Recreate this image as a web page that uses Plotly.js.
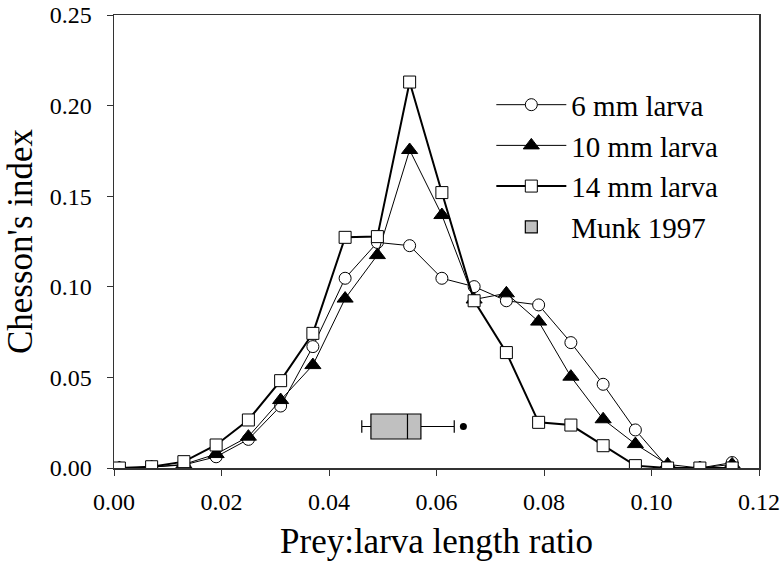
<!DOCTYPE html>
<html>
<head>
<meta charset="utf-8">
<script src="https://cdn.plot.ly/plotly-3.0.1.min.js"></script>
<style>html,body{margin:0;padding:0;background:#fff;}#chart{width:782px;height:563px;}</style>
</head>
<body>
<div id="chart"></div>
<script>
const ratio = [0.001, 0.007, 0.013, 0.019, 0.025, 0.031, 0.037, 0.043, 0.049, 0.055,
               0.061, 0.067, 0.073, 0.079, 0.085, 0.091, 0.097, 0.103, 0.109, 0.115];
const larva6  = [0.000, 0.0005, 0.0017, 0.0062, 0.0158, 0.0342, 0.0670, 0.1047, 0.1245, 0.1227,
                 0.1047, 0.1001, 0.0923, 0.0900, 0.0692, 0.0462, 0.0210, 0.0005, 0.0000, 0.0030];
const larva10 = [0.000, 0.0005, 0.0020, 0.0077, 0.0173, 0.0375, 0.0568, 0.0935, 0.1175, 0.1755,
                 0.1396, 0.0930, 0.0964, 0.0808, 0.0504, 0.0269, 0.0132, 0.0020, 0.0000, 0.0020];
const larva14 = [0.000, 0.0007, 0.0035, 0.0127, 0.0265, 0.0482, 0.0743, 0.1273, 0.1277, 0.2130,
                 0.1520, 0.0923, 0.0637, 0.0252, 0.0237, 0.0123, 0.0013, 0.0000, 0.0000, 0.0000];
const seriesNames = ["6 mm larva", "10 mm larva", "14 mm larva", "Munk 1997"];
const xTickVals = [0, 0.02, 0.04, 0.06, 0.08, 0.10, 0.12];
const xTickText = ["0.00", "0.02", "0.04", "0.06", "0.08", "0.10", "0.12"];
const yTickVals = [0, 0.05, 0.10, 0.15, 0.20, 0.25];
const yTickText = ["0.00", "0.05", "0.10", "0.15", "0.20", "0.25"];
// Munk 1997 box summary (prey:larva length ratio)
const munkLowerFence = [0.0461];
const munkQ1 = [0.0478];
const munkMedian = [0.0546];
const munkQ3 = [0.0571];
const munkUpperFence = [0.0633];
const munkOutlier = [0.0650];
const munkLevel = [0.0229];

const font = "Liberation Serif";

const traces = [
  {x: ratio, y: larva6, type: "scatter", mode: "lines+markers", name: seriesNames[0],
   line: {color: "#000", width: 1},
   marker: {symbol: "circle", size: 12, color: "#fff", line: {color: "#000", width: 1}}},
  {x: ratio, y: larva10, type: "scatter", mode: "lines+markers", name: seriesNames[1],
   line: {color: "#000", width: 1},
   marker: {symbol: "triangle-up", size: 14, color: "#000", line: {color: "#000", width: 1}}},
  {x: ratio, y: larva14, type: "scatter", mode: "lines+markers", name: seriesNames[2],
   line: {color: "#000", width: 2},
   marker: {symbol: "square", size: 12, color: "#fff", line: {color: "#000", width: 1}}},
  {type: "box", orientation: "h", name: seriesNames[3], y: munkLevel,
   lowerfence: munkLowerFence, q1: munkQ1, median: munkMedian, q3: munkQ3, upperfence: munkUpperFence,
   width: 0.0138, whiskerwidth: 0.5, fillcolor: "#c0c0c0", line: {color: "#000", width: 1.2},
   boxpoints: false, hoverinfo: "skip"},
  {x: munkOutlier, y: munkLevel, type: "scatter", mode: "markers", showlegend: false,
   marker: {symbol: "circle", size: 7, color: "#000"}}
];

const layout = {
  width: 782, height: 563,
  margin: {l: 114, r: 23, t: 15, b: 95},
  paper_bgcolor: "#fff", plot_bgcolor: "#fff",
  font: {family: font, color: "#000", size: 24},
  showlegend: true,
  legend: {x: 0.585, y: 0.858, xanchor: "left", yanchor: "top", itemwidth: 70,
           font: {family: font, size: 29, color: "#000"}, bgcolor: "rgba(0,0,0,0)",
           traceorder: "normal", tracegroupgap: 0},
  xaxis: {range: [0, 0.12], tickvals: xTickVals, ticktext: xTickText,
          showgrid: false, zeroline: false, showline: true, mirror: true,
          linecolor: "#333", linewidth: 1.5, ticks: "outside", ticklen: 6, tickcolor: "#333",
          ticklabelstandoff: 6,
          tickfont: {family: font, size: 24, color: "#000"},
          title: {text: "Prey:larva length ratio", font: {family: font, size: 35, color: "#000"}, standoff: 14}},
  yaxis: {range: [0, 0.25], tickvals: yTickVals, ticktext: yTickText,
          showgrid: false, zeroline: false, showline: true, mirror: true,
          linecolor: "#333", linewidth: 1.5, ticks: "outside", ticklen: 6, tickcolor: "#333",
          ticklabelstandoff: 10,
          tickfont: {family: font, size: 24, color: "#000"},
          title: {text: "Chesson's index", font: {family: font, size: 35, color: "#000"}, standoff: 6}}
};

Plotly.newPlot("chart", traces, layout, {displayModeBar: false, staticPlot: true});
</script>
</body>
</html>
